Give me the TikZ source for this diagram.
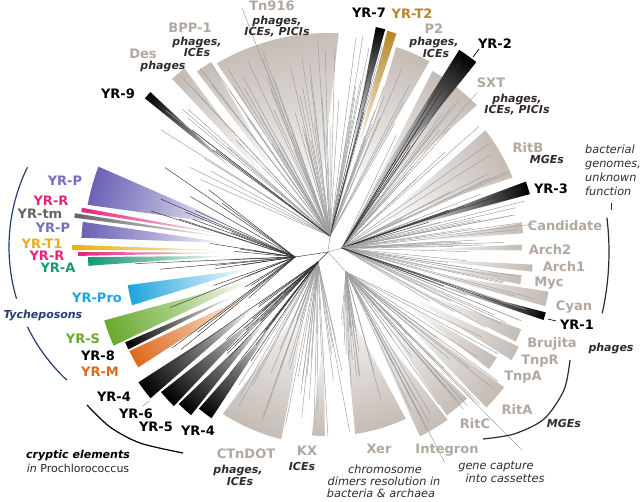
\documentclass[tikz,border=0pt]{standalone}
\usepackage{fontspec}
\setmainfont{DejaVu Sans}
\definecolor{labgrey}{RGB}{178,168,160}
\definecolor{wg}{RGB}{196,187,180}
\definecolor{brgrey}{RGB}{158,158,158}
\definecolor{darktxt}{RGB}{50,42,42}
\definecolor{cPl}{RGB}{118,108,196}
\definecolor{cPw}{RGB}{105,98,180}
\definecolor{cR}{RGB}{230,37,125}
\definecolor{cTm}{RGB}{100,100,100}
\definecolor{cT1}{RGB}{232,176,18}
\definecolor{cA}{RGB}{25,150,118}
\definecolor{cPro}{RGB}{30,165,220}
\definecolor{cS}{RGB}{105,170,45}
\definecolor{cM}{RGB}{222,105,28}
\definecolor{goldT}{RGB}{184,134,40}
\definecolor{cTy}{RGB}{38,62,110}
\newcommand\clade[6]{%
  \pgfmathsetmacro\cmid{((#1)+(#2))/2}%
  \pgfmathsetmacro\chw{((#2)-(#1))/2}%
  \begin{scope}[transform canvas={shift={(328,-252)},rotate=\cmid}]%
    \shade[left color=white,right color=#5,middle color=#6] (#3,0) -- (-\chw:#4) arc[start angle=-\chw,end angle=\chw,radius=#4] -- cycle;%
  \end{scope}}
\newcommand\fan[7]{%
  \foreach \k in {1,...,#6}{%
    \pgfmathsetmacro\fa{(#2)+rnd*((#3)-(#2))}%
    \pgfmathsetmacro\fr{(#4)+rnd*((#5)-(#4))}%
    \draw[#7] (#1) -- ([shift={(\fa:\fr)}]C);}}
\begin{document}
\begin{tikzpicture}[x=1pt,y=1pt,
  lab/.style={font=\bfseries\fontsize{13}{13}\selectfont,anchor=base,inner sep=0pt},
  glab/.style={lab,text=labgrey},
  ilab/.style={font=\bfseries\itshape\fontsize{11}{11}\selectfont,anchor=base,inner sep=0pt,text=darktxt},
  rlab/.style={font=\itshape\fontsize{11.3}{11.3}\selectfont,anchor=base,inner sep=0pt,text=darktxt},
  br/.style={line width=0.45pt,draw=brgrey},
  bk/.style={line width=0.45pt,draw=black!80},
  bracket/.style={line width=1.2pt,draw=darktxt},
  leader/.style={line width=0.6pt,draw=brgrey}]
\useasboundingbox[fill=white] (0,-501) rectangle (640,0);
\pgfmathsetseed{7}
\coordinate (C) at (328,-252);
\coordinate (U) at (330,-236);
\coordinate (R) at (342,-248);
\coordinate (D) at (346,-272);
\coordinate (LD) at (318,-262);
\coordinate (L) at (295,-257);
\coordinate (TyC) at (191,-247);
% ---- clades (wedges)
\clade{87.2}{120.5}{40}{219}{wg}{wg!50}
\clade{121.6}{126}{90}{223}{wg}{wg!50}
\clade{128}{132}{90}{233}{wg}{wg!50}
\clade{138}{140}{120}{239}{black}{black!50}
\clade{62}{71.6}{60}{216}{wg}{wg!50}
\clade{72.6}{75}{100}{229}{goldT}{goldT!50}
\clade{75.6}{78}{100}{230}{black}{black!45}
\clade{44.6}{60}{60}{209}{wg}{wg!50}
\clade{52}{57}{60}{241}{black}{black!40}
\clade{22}{37.7}{60}{199}{wg}{wg!50}
\clade{16}{19.6}{70}{210}{black}{black!45}
\clade{5.5}{8.5}{90}{196}{wg}{wg!50}
\clade{0.5}{2.2}{90}{194}{wg}{wg!50}
\clade{-5.5}{-3.5}{90}{205}{wg}{wg!50}
\clade{-9.5}{-6.8}{90}{195}{wg}{wg!50}
\clade{-14}{-10.2}{90}{224}{wg}{wg!50}
\clade{-17.5}{-15.5}{110}{226}{black}{black!45}
\clade{-25.5}{-21.8}{90}{208}{wg}{wg!50}
\clade{-30.5}{-26.4}{90}{213}{wg}{wg!50}
\clade{-36}{-32}{90}{199}{wg}{wg!50}
\clade{-44.5}{-37.5}{80}{222}{wg}{wg!50}
\clade{-54}{-46.5}{80}{202}{wg}{wg!50}
\clade{-63.5}{-54.5}{70}{206}{wg}{wg!50}
\clade{-81.5}{-65}{50}{184}{wg}{wg!50}
\clade{-95}{-91}{80}{184}{wg}{wg!50}
\clade{-123}{-104}{50}{193}{wg}{wg!50}
\clade{230.5}{235}{90}{203}{black}{black!55}
\clade{225.5}{230}{90}{213}{black}{black!55}
\clade{220}{225}{90}{218}{black}{black!55}
\clade{214.5}{219.5}{90}{230}{black}{black!55}
\clade{206.5}{211.3}{90}{222}{cM}{cM!55}
\clade{204}{206}{100}{222}{black}{black!50}
\clade{197}{203.6}{80}{234}{cS}{cS!55}
\clade{189.4}{195.2}{80}{203}{cPro}{cPro!50}
\clade{181.2}{183.3}{100}{240}{cA}{cA!55}
\clade{180}{180.9}{100}{250}{cR}{cR!55}
\clade{178.4}{179.6}{100}{256}{cT1}{cT1!60}
\clade{173}{176.7}{100}{247}{cPw}{cPw!55}
\clade{171.3}{172.3}{100}{256}{cTm}{cTm!55}
\clade{169.8}{170.8}{100}{250}{cR}{cR!55}
\clade{159.6}{168.9}{100}{245}{cPw}{cPw!55}
% ---- branches
\draw[br] (C) -- (U); \draw[br] (C) -- (R); \draw[br] (C) -- (D);
\draw[bk] (C) -- (L); \draw[bk] (C) -- (LD);
\fan{U}{87}{120}{100}{215}{35}{br}
\fan{U}{121}{132}{140}{228}{8}{br}
\fan{U}{133}{157}{130}{232}{10}{br}
\fan{U}{137.5}{140.5}{150}{236}{3}{bk}
\fan{U}{78}{87}{120}{220}{7}{br}
\fan{U}{62}{78}{110}{225}{14}{br}
\fan{U}{75.6}{78}{140}{225}{3}{bk}
\fan{R}{44}{61}{90}{205}{14}{br}
\fan{R}{52}{57}{100}{238}{6}{bk}
\fan{R}{20}{44}{80}{198}{14}{br}
\fan{R}{16}{19.6}{100}{208}{6}{bk}
\fan{R}{-28}{16}{100}{215}{45}{br}
\fan{R}{-17.5}{-15.5}{120}{224}{3}{bk}
\fan{D}{-64}{-28}{90}{220}{30}{br}
\fan{D}{-82}{-64}{60}{185}{20}{br}
\fan{LD}{-96}{-82}{80}{185}{10}{br}
\fan{LD}{-124}{-96}{70}{195}{22}{br}
\fan{LD}{214}{236}{80}{215}{18}{bk}
\fan{L}{152}{214}{70}{200}{30}{bk}
\draw[br] (U) -- ([shift={(109.4:259)}]C);
\draw[br] (U) -- ([shift={(80.8:219)}]C);
\draw[br] (D) -- ([shift={(-61:241)}]C);
\draw[br] (D) -- ([shift={(-45.6:277)}]C);
\draw[br] (R) -- ([shift={(46.9:218)}]C);
% ---- brackets
\draw[bracket,draw=cTy] ([shift={(154:182)}]TyC) arc[start angle=154,end angle=196.5,radius=182];
\draw[bracket,draw=cTy] ([shift={(206:182)}]TyC) arc[start angle=206,end angle=227,radius=182];
\draw[bracket,draw=black] plot[smooth] coordinates {(87,-405) (110,-427) (140,-443) (183,-453)};
\draw[bracket] ([shift={(7:281)}]C) arc[start angle=7,end angle=-12.6,radius=281];
\draw[bracket] plot[smooth] coordinates {(570,-360) (564,-390) (544,-419) (514,-434) (483,-439)};
% ---- leaders
\coordinate (l2a) at (473,-57); \coordinate (l2b) at (479,-49);
\draw[line width=0.7pt,black] (l2a) -- (l2b);
\coordinate (l6a) at (143,-406); \coordinate (l6b) at (149,-401);
\draw[leader] (l6a) -- (l6b);
\coordinate (l1a) at (548,-319); \coordinate (l1b) at (556,-321);
\draw[line width=0.7pt,black] (l1a) -- (l1b);
\coordinate (lta) at (611,-203); \coordinate (ltb) at (611,-210);
\draw[line width=0.6pt,darktxt] (lta) -- (ltb);
% ---- labels
\node[glab] (tn) at (272,-10) {Tn916};
\node[ilab] (tnA) at (277,-24) {phages,};
\node[ilab] (tnB) at (277,-35) {ICEs, PICIs};
\node[glab] (bpp) at (190,-32) {BPP-1};
\node[ilab] (bppA) at (197,-45) {phages,};
\node[ilab] (bppB) at (197,-56) {ICEs};
\node[glab] (des) at (143,-58) {Des};
\node[ilab] (desA) at (163,-69) {phages};
\node[lab] (yr9) at (118,-98) {YR-9};
\node[lab] (yr7) at (369,-17) {YR-7};
\node[lab,text=goldT] (yrt2) at (412,-18) {YR-T2};
\node[glab] (p2) at (434,-33) {P2};
\node[ilab] (p2A) at (434,-45) {phages,};
\node[ilab] (p2B) at (436,-57) {ICEs};
\node[lab] (yr2) at (495,-48) {YR-2};
\node[glab] (sxt) at (491,-87) {SXT};
\node[ilab] (sxtA) at (517,-102) {phages,};
\node[ilab] (sxtB) at (517,-113) {ICEs, PICIs};
\node[glab] (ritb) at (528,-152) {RitB};
\node[ilab] (ritbA) at (547,-163) {MGEs};
\node[lab] (yr3) at (551,-193) {YR-3};
\node[rlab,anchor=base west] (bg1) at (585,-153) {bacterial};
\node[rlab,anchor=base west] (bg2) at (585,-167) {genomes,};
\node[rlab,anchor=base west] (bg3) at (585,-181) {unknown};
\node[rlab,anchor=base west] (bg4) at (585,-195) {function};
\node[glab] (cand) at (565,-230) {Candidate};
\node[glab] (arch2) at (550,-254) {Arch2};
\node[glab] (arch1) at (564,-271) {Arch1};
\node[glab] (myc) at (549,-286) {Myc};
\node[glab] (cyan) at (574,-310) {Cyan};
\node[lab] (yr1) at (577,-329) {YR-1};
\node[glab] (bru) at (552,-347) {Brujita};
\node[ilab] (phR) at (611,-351) {phages};
\node[glab] (tnpr) at (540,-364) {TnpR};
\node[glab] (tnpa) at (523,-380) {TnpA};
\node[glab] (rita) at (517,-414) {RitA};
\node[ilab] (mgeR) at (564,-427) {MGEs};
\node[glab] (ritc) at (475,-428) {RitC};
\node[glab] (integ) at (447,-453) {Integron};
\node[glab] (xer) at (379,-453) {Xer};
\node[rlab] (x1) at (385,-473) {chromosome};
\node[rlab] (x2) at (384,-485) {dimers resolution in};
\node[rlab] (x3) at (381,-497) {bacteria \& archaea};
\node[rlab] (g1) at (496,-469) {gene capture};
\node[rlab] (g2) at (505,-482) {into cassettes};
\node[glab] (kx) at (307,-455) {KX};
\node[ilab] (kxA) at (302,-470) {ICEs};
\node[glab] (ctn) at (246,-458) {CTnDOT};
\node[ilab] (ctnA) at (238,-473) {phages,};
\node[ilab] (ctnB) at (240,-485) {ICEs};
\node[ilab,text=black] (cr1) at (78,-458) {cryptic elements};
\node[anchor=base,inner sep=0pt,font=\fontsize{11}{11}\selectfont,text=black!85] (cr2) at (78,-472) {\textit{in} Prochlorococcus};
\node[lab] (yr4b) at (198,-435) {YR-4};
\node[lab] (yr5) at (156,-431) {YR-5};
\node[lab] (yr6) at (136,-418) {YR-6};
\node[lab] (yr4a) at (114,-401) {YR-4};
\node[lab,text=cM] (yrm) at (100,-376) {YR-M};
\node[lab] (yr8) at (98,-360) {YR-8};
\node[lab,text=cS] (yrs) at (83,-343) {YR-S};
\node[ilab,text=cTy] (ty) at (43,-318) {Tycheposons};
\node[lab,text=cPro] (yrpro) at (97,-302) {YR-Pro};
\node[lab,text=cA] (yra) at (58,-272) {YR-A};
\node[lab,text=cR] (yrr2) at (47,-260) {YR-R};
\node[lab,text=cT1] (yrt1) at (42,-248) {YR-T1};
\node[lab,text=cPl] (yrp2) at (53,-232) {YR-P};
\node[lab,text=cTm] (yrtm) at (40,-218) {YR-tm};
\node[lab,text=cR] (yrr1) at (51,-205) {YR-R};
\node[lab,text=cPl] (yrp1) at (65,-185) {YR-P};
\end{tikzpicture}
\end{document}
